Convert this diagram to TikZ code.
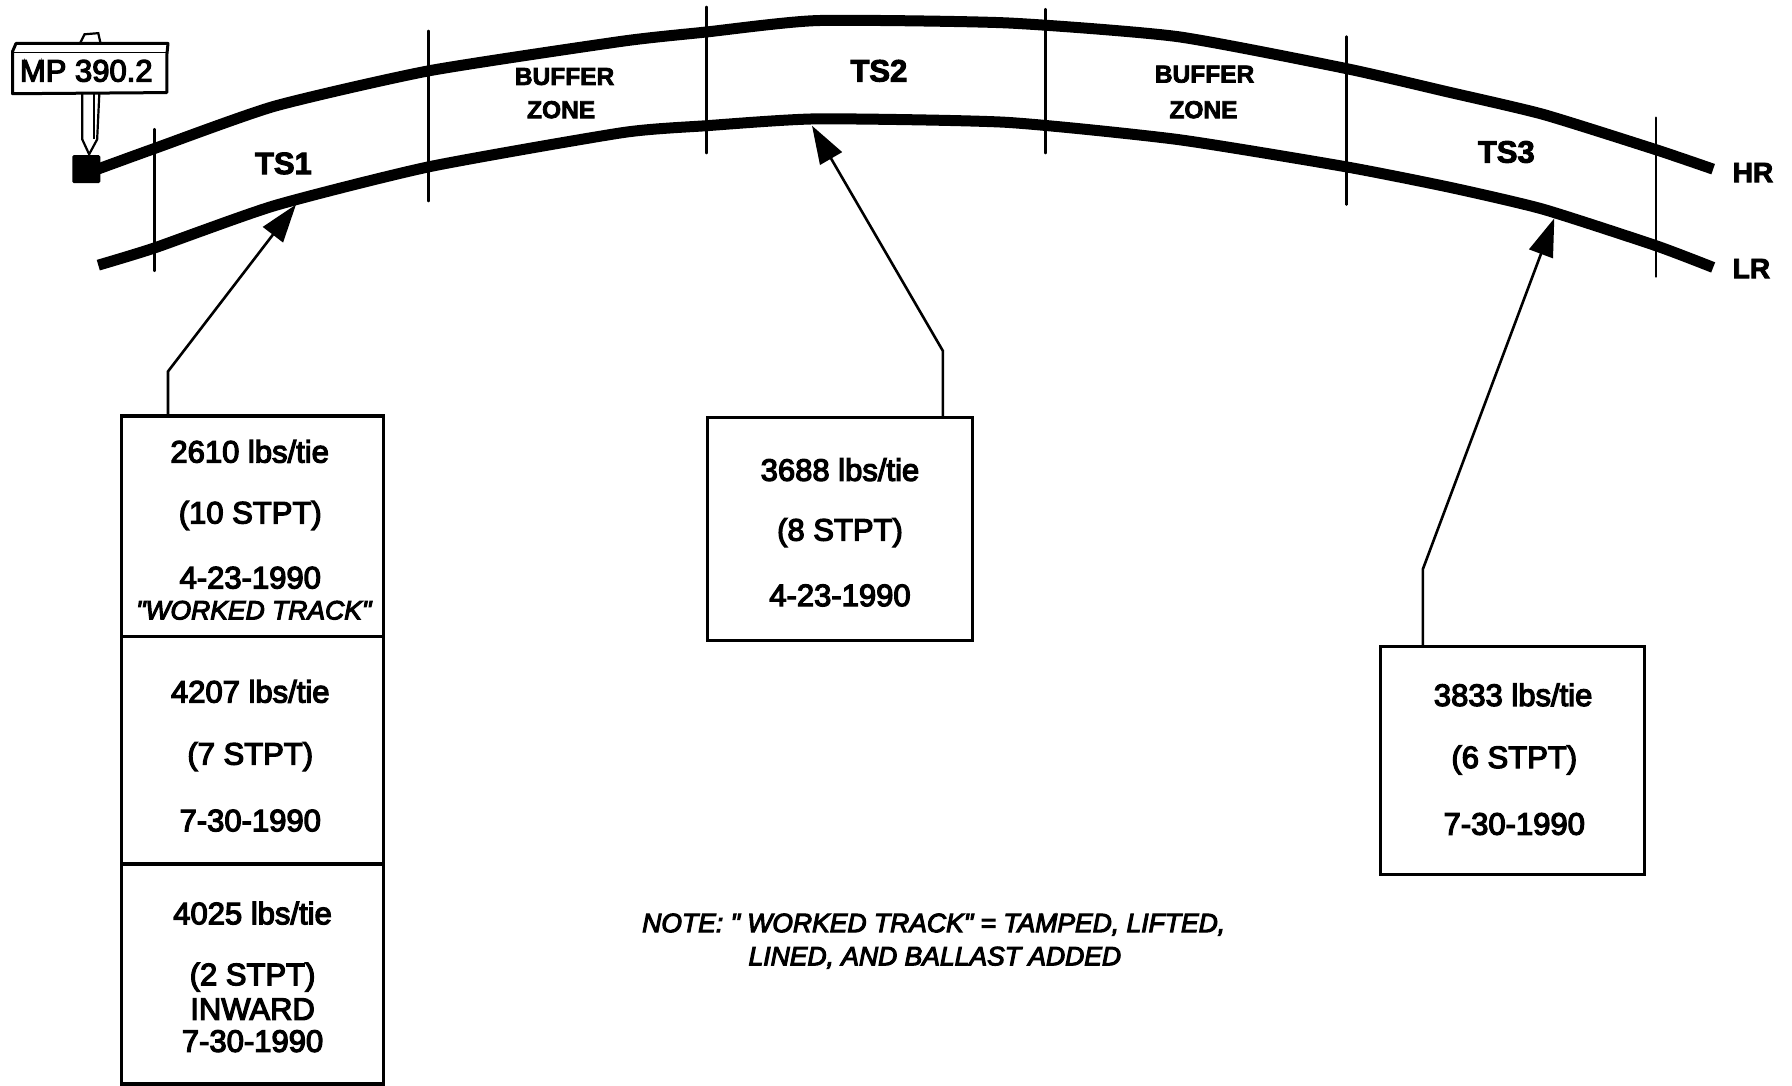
\documentclass[tikz,border=0pt]{standalone}
\usepackage{fontspec}
\setmainfont{Liberation Sans}
\newfontfamily\hv{Liberation Sans}[FakeBold=4]
\newfontfamily\hvi{Liberation Sans}[ItalicFeatures={FakeBold=4}]
\newfontfamily\hb{Liberation Sans}[BoldFeatures={FakeBold=3}]
\usetikzlibrary{arrows.meta}
\newcommand{\fs}[1]{\fontsize{#1}{#1}\selectfont}
\tikzset{
  rail/.style={line width=11pt,line join=round},
  tick/.style={line width=2.6pt,line cap=round},
  box/.style={draw,line width=3.2pt,fill=white,inner sep=0pt,outer sep=0pt,anchor=north west},
  txt/.style={font=\fs{31}\hv,text=black,inner sep=0pt},
  itxt/.style={font=\fs{26.5}\hvi\itshape,inner sep=0pt},
  lab/.style={font=\fs{31}\hb\bfseries,inner sep=0pt},
  zone/.style={font=\fs{24.5}\hb\bfseries,inner sep=0pt},
  side/.style={font=\fs{28}\hb\bfseries,inner sep=0pt,anchor=west},
  lead/.style={line width=2.6pt,-{Triangle[length=38pt,width=25pt]}}
}
\begin{document}
\begin{tikzpicture}[x=1.142857pt,y=-1.142857pt]
\useasboundingbox (0,0) rectangle (1568,949.8);
% ticks
\foreach \x/\a/\b in {135/113/237,375/27/176,618/6/134,915/8/134,1178/32/179,1449/103/242}
  \draw[tick] (\x,\a) -- (\x,\b);
% rails
\draw[rail] plot[smooth,tension=0.35] coordinates {(80,150) (135,130) (240,93) (375,62) (545,36) (618,28) (715,18) (880,20) (1030,32) (1178,60) (1265,80) (1350,100) (1449,131) (1499,148)};
\draw[rail] plot[smooth,tension=0.35] coordinates {(86,232) (135,217) (240,180) (375,146) (545,116) (618,110) (715,104) (880,107) (1030,122) (1178,146) (1269,164) (1350,183) (1449,215) (1499,234)};
% milepost
\draw[line width=2.2pt,fill=white] (72,80) -- (72,122) -- (78,135) -- (85,122) -- (87,80) -- cycle;
\draw[line width=1.6pt] (82,80) -- (82,122);
\node[fill=black,minimum size=28pt,inner sep=0pt,rounded corners=1.5pt] (mpfoot) at (75.5,148) {};
\draw[line width=2.2pt,fill=white] (70,38) -- (74,30) -- (86,29) -- (88,38) -- cycle;
\draw[line width=3pt,line join=round,fill=white] (11,45) -- (14,38) -- (147,38) -- (146,48) -- (146,81) -- (11,82) -- cycle;
\draw[line width=1.6pt] (12,46) -- (145,46);
\node[font=\fs{31}\hv,inner sep=0pt] (mp) at (75.5,62) {MP 390.2};
% labels
\node[lab] (ts1) at (248,143) {TS1};
\node[lab] (ts2) at (769,62) {TS2};
\node[lab] (ts3) at (1318,133) {TS3};
\node[zone] (bz1a) at (494,67) {BUFFER};
\node[zone] (bz1b) at (491,96) {ZONE};
\node[zone] (bz2a) at (1054,65) {BUFFER};
\node[zone] (bz2b) at (1053,96) {ZONE};
\node[side] (hr) at (1516,151) {HR};
\node[side] (lr) at (1516,235) {LR};
% boxes
\node[box,minimum width=262pt,minimum height=668pt] (left) at (106.5,364) {};
\node[box,minimum width=265pt,minimum height=223pt] (mid) at (619,365) {};
\node[box,minimum width=264pt,minimum height=228pt] (right) at (1208,566) {};
\coordinate (d1l) at (106.5,557); \coordinate (d1r) at (336,557);
\coordinate (d2l) at (106.5,756); \coordinate (d2r) at (336,756);
\draw[line width=3.2pt] (d1l) -- (d1r);
\draw[line width=3.2pt] (d2l) -- (d2r);
% leaders
\coordinate (s1) at (147,364); \coordinate (e1) at (259,179);
\coordinate (s2) at (825,365); \coordinate (e2) at (710.5,110);
\coordinate (s3) at (1245,566); \coordinate (e3) at (1360,191);
\draw[lead] (s1) -- (147,325) -- (e1);
\draw[lead] (s2) -- (825,307) -- (e2);
\draw[lead] (s3) -- (1245,498) -- (e3);
% box text
\node[txt] (a1) at (218.5,395) {2610 lbs/tie};
\node[txt] (a2) at (219,451) {(10 STPT)};
\node[txt] (a3) at (219,505.5) {4-23-1990};
\node[itxt] (a4) at (222,534) {"WORKED TRACK"};
\node[txt] (b1) at (219,605) {4207 lbs/tie};
\node[txt] (b2) at (219,662) {(7 STPT)};
\node[txt] (b3) at (219,718) {7-30-1990};
\node[txt] (c1) at (221,799) {4025 lbs/tie};
\node[txt] (c2) at (221,855) {(2 STPT)};
\node[txt] (c3) at (221,883) {INWARD};
\node[txt] (c4) at (221,911) {7-30-1990};
\node[txt] (m1) at (735,411) {3688 lbs/tie};
\node[txt] (m2) at (735,466) {(8 STPT)};
\node[txt] (m3) at (735,521) {4-23-1990};
\node[txt] (r1) at (1324,608) {3833 lbs/tie};
\node[txt] (r2) at (1325,665) {(6 STPT)};
\node[txt] (r3) at (1325,721) {7-30-1990};
\node[itxt] (n1) at (817,809) {NOTE: " WORKED TRACK" = TAMPED, LIFTED,};
\node[itxt] (n2) at (818,838) {LINED, AND BALLAST ADDED};
\end{tikzpicture}
\end{document}
